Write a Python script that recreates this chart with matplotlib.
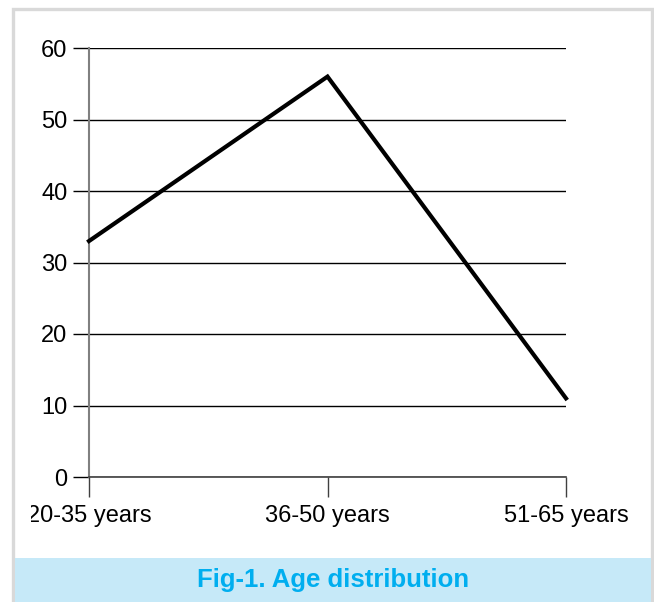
import matplotlib
matplotlib.use("Agg")
import matplotlib.pyplot as plt
from matplotlib.patches import Rectangle
from matplotlib.transforms import Bbox, TransformedBbox

plt.rcParams['font.family'] = ['Liberation Sans', 'DejaVu Sans']

categories = ["20-35 years", "36-50 years", "51-65 years"]
values = [33, 56, 11]
yticks = [0, 10, 20, 30, 40, 50, 60]
caption = "Fig-1. Age distribution"

W, H = 654, 602
fig = plt.figure(figsize=(W / 100, H / 100), dpi=100)
fig.patch.set_facecolor("white")

def px(x0, y0, x1, y1):
    # pixel box (top-left origin) -> figure fraction rectangle
    return (x0 / W, 1 - y1 / H, (x1 - x0) / W, (y1 - y0) / H)

# outer frame
fx, fy, fw, fh = px(13, 8.5, 651.5, 640)
fig.add_artist(Rectangle((fx, fy), fw, fh, transform=fig.transFigure,
                         facecolor="none", edgecolor="#d9d9d9", linewidth=2.4))

# caption band
cx, cy, cw, ch = px(14.5, 558, 651, 640)
fig.add_artist(Rectangle((cx, cy), cw, ch, transform=fig.transFigure,
                         facecolor="#c6e9f8", edgecolor="none"))
fig.text((14.5 + 651) / 2 / W, 1 - 580 / H, caption, ha="center", va="center",
         fontsize=18.5, fontweight="bold", color="#00aeef")

ax = fig.add_axes(px(89, 48, 566, 477))
x = list(range(len(categories)))
ax.plot(x, values, color="black", linewidth=3, solid_joinstyle="miter",
        clip_on=False, zorder=3)
ax.set_xlim(0, len(categories) - 1)
ax.set_ylim(0, 60)
ax.set_yticks(yticks)
ax.set_xticks(x)
ax.set_xticklabels(categories)
ax.yaxis.grid(True, color="black", linewidth=1)
ax.set_axisbelow(True)

for s in ["top", "right"]:
    ax.spines[s].set_visible(False)
ax.spines["left"].set_color("#808080")
ax.spines["left"].set_linewidth(1.5)
ax.spines["bottom"].set_color("#404040")
ax.spines["bottom"].set_linewidth(1.2)

ax.tick_params(axis="y", length=11.5, width=1, color="black", pad=4, labelsize=17)
ax.tick_params(axis="x", length=14.4, width=1, color="#404040", pad=6, labelsize=17)

# keep labels inside the frame
clip = TransformedBbox(Bbox([[31 / W, 0], [1, 1]]), fig.transFigure)
for lab in ax.get_xticklabels():
    lab.set_clip_box(clip)
    lab.set_clip_on(True)

fig.savefig("out.png", dpi=100, facecolor="white")
